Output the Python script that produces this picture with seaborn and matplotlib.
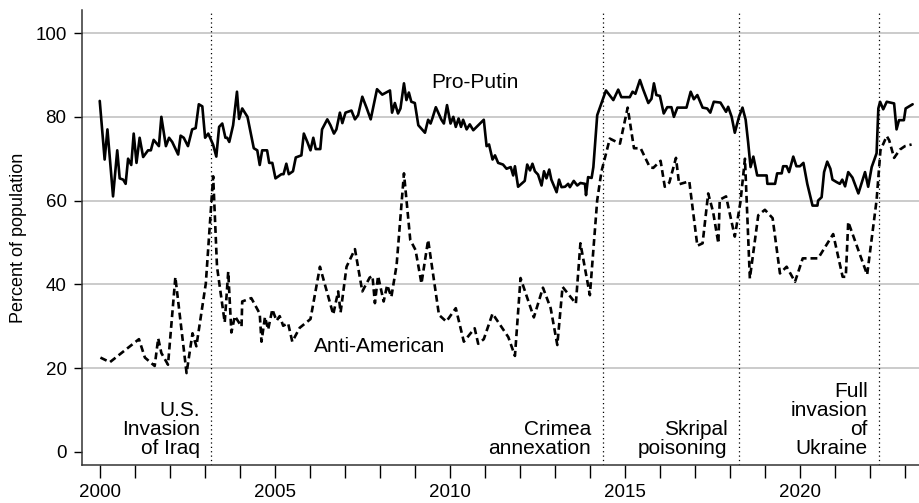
import pandas as pd
import matplotlib
matplotlib.use("Agg")
import matplotlib.pyplot as plt
import seaborn as sns

# Pro-Putin series (year, percent)
putin_year = [2000.0, 2000.14, 2000.22, 2000.38, 2000.5, 2000.57, 2000.67, 2000.74, 2000.81, 2000.9,
              2000.97, 2001.05, 2001.14, 2001.24, 2001.38, 2001.46, 2001.54, 2001.69, 2001.76, 2001.89,
              2001.98, 2002.07, 2002.24, 2002.31, 2002.4, 2002.52, 2002.64, 2002.74, 2002.83, 2002.93,
              2003.01, 2003.1, 2003.24, 2003.33, 2003.41, 2003.5, 2003.59, 2003.64, 2003.7, 2003.81,
              2003.92, 2003.98, 2004.07, 2004.22, 2004.4, 2004.5, 2004.57, 2004.64, 2004.78, 2004.84,
              2004.93, 2005.02, 2005.19, 2005.25, 2005.33, 2005.4, 2005.52, 2005.6, 2005.76, 2005.83,
              2005.93, 2006.02, 2006.1, 2006.17, 2006.3, 2006.35, 2006.5, 2006.59, 2006.69, 2006.76,
              2006.86, 2006.93, 2007.02, 2007.19, 2007.29, 2007.38, 2007.5, 2007.62, 2007.74, 2007.92,
              2008.07, 2008.29, 2008.35, 2008.43, 2008.52, 2008.59, 2008.69, 2008.76, 2008.83, 2008.9,
              2009.0, 2009.1, 2009.29, 2009.38, 2009.45, 2009.5, 2009.6, 2009.76, 2009.83, 2009.92,
              2010.02, 2010.1, 2010.17, 2010.25, 2010.32, 2010.38, 2010.48, 2010.57, 2010.67, 2010.97,
              2011.05, 2011.12, 2011.22, 2011.29, 2011.38, 2011.52, 2011.62, 2011.74, 2011.81, 2011.86,
              2011.95, 2012.14, 2012.21, 2012.29, 2012.36, 2012.43, 2012.52, 2012.62, 2012.69, 2012.76,
              2012.84, 2012.9, 2013.05, 2013.12, 2013.19, 2013.29, 2013.38, 2013.43, 2013.54, 2013.64,
              2013.73, 2013.86, 2013.89, 2013.95, 2014.05, 2014.1, 2014.21, 2014.46, 2014.67, 2014.81,
              2014.9, 2015.14, 2015.22, 2015.3, 2015.43, 2015.52, 2015.67, 2015.76, 2015.83, 2015.9,
              2016.0, 2016.11, 2016.21, 2016.33, 2016.4, 2016.5, 2016.76, 2016.88, 2016.97, 2017.07,
              2017.22, 2017.35, 2017.44, 2017.54, 2017.73, 2017.89, 2017.95, 2018.05, 2018.14, 2018.26,
              2018.36, 2018.45, 2018.52, 2018.59, 2018.67, 2018.78, 2019.05, 2019.07, 2019.29, 2019.35,
              2019.48, 2019.52, 2019.62, 2019.69, 2019.81, 2019.9, 2020.0, 2020.1, 2020.21, 2020.36,
              2020.5, 2020.52, 2020.62, 2020.69, 2020.78, 2020.87, 2020.93, 2021.05, 2021.14, 2021.21,
              2021.29, 2021.38, 2021.5, 2021.67, 2021.86, 2021.95, 2022.05, 2022.19, 2022.24, 2022.29,
              2022.38, 2022.48, 2022.69, 2022.76, 2022.83, 2022.97, 2023.02, 2023.22]
putin_pct = [83.8, 69.8, 77, 61, 72, 65.3, 65, 64, 70, 68.5,
             76, 69, 75, 70.4, 72, 72, 74.5, 73, 80, 73,
             75, 74, 71, 75.5, 75, 73, 77, 77.3, 83, 82.5,
             75, 76, 73.3, 70.5, 77.6, 78.4, 75, 75, 74, 78,
             86, 79.5, 82, 80, 72.5, 72, 68.5, 72, 72, 69,
             69, 65.3, 66.3, 66.3, 68.8, 66.3, 67, 70.3, 70.8, 76,
             74, 72, 75, 72.3, 72.3, 77, 79.4, 78, 76, 77,
             81, 78.5, 81, 81.5, 79.4, 80.4, 84.8, 82.2, 79.4, 86.6,
             85.3, 86.3, 81, 83.3, 80.8, 82, 88, 84, 85.8, 83.6,
             83.3, 78, 76.2, 79.3, 78.4, 79.6, 82.3, 79.3, 78.4, 82.8,
             78.4, 80, 77.6, 79.6, 77.6, 79.3, 77, 78.2, 76.8, 79.3,
             73, 73.4, 69.8, 70.8, 69, 68.6, 67.6, 68, 66, 68.2,
             63.3, 64.7, 68.6, 67.2, 68.8, 67, 66.2, 63.6, 67, 65.3,
             67.4, 65, 62, 65, 63.2, 63.3, 64, 63.2, 64.7, 63.6,
             64.2, 64, 61.3, 65.6, 65.4, 68, 80.4, 86.3, 84, 86.5,
             84.7, 84.7, 86, 85.5, 88.8, 86.6, 83.3, 84.3, 88, 85.2,
             85, 80.8, 82.3, 82.3, 80, 82.2, 82.2, 86, 84.2, 85.2,
             82.2, 82, 81, 83.6, 83.4, 81.2, 82.4, 80, 76.2, 80,
             82.2, 79.3, 74, 68, 70.5, 66, 66, 64, 64, 66.5,
             66.5, 68.2, 68.2, 66.8, 70.5, 68.2, 68.2, 69, 64, 58.8,
             58.8, 60, 60.8, 66.8, 69.3, 67.6, 65, 64.4, 64, 65,
             63.4, 66.8, 65.5, 61.7, 66.8, 63.3, 68, 71.3, 82, 83.6,
             81.8, 83.6, 83.2, 77, 79.2, 79.2, 82, 83]

# Anti-American series (year, percent)
anti_year = [2000.02, 2000.29, 2001.12, 2001.29, 2001.57, 2001.67, 2001.76, 2001.95, 2002.16, 2002.48,
             2002.65, 2002.76, 2003.03, 2003.24, 2003.35, 2003.57, 2003.67, 2003.76, 2003.86, 2004.05,
             2004.07, 2004.33, 2004.57, 2004.62, 2004.72, 2004.81, 2004.93, 2005.05, 2005.14, 2005.24,
             2005.38, 2005.5, 2005.71, 2006.02, 2006.29, 2006.67, 2006.81, 2006.88, 2007.05, 2007.29,
             2007.5, 2007.71, 2007.79, 2007.86, 2007.95, 2008.11, 2008.21, 2008.33, 2008.48, 2008.69,
             2008.87, 2009.02, 2009.19, 2009.38, 2009.69, 2009.9, 2010.17, 2010.4, 2010.71, 2010.81,
             2010.97, 2011.22, 2011.67, 2011.86, 2012.02, 2012.4, 2012.66, 2012.88, 2013.07, 2013.22,
             2013.6, 2013.73, 2014.0, 2014.21, 2014.33, 2014.57, 2014.86, 2015.08, 2015.26, 2015.45,
             2015.71, 2015.81, 2016.02, 2016.14, 2016.27, 2016.46, 2016.55, 2016.84, 2017.07, 2017.22,
             2017.38, 2017.52, 2017.67, 2017.71, 2017.89, 2018.14, 2018.3, 2018.43, 2018.57, 2018.81,
             2019.0, 2019.22, 2019.43, 2019.62, 2019.86, 2020.08, 2020.52, 2020.95, 2021.22, 2021.31,
             2021.38, 2021.92, 2022.19, 2022.3, 2022.48, 2022.55, 2022.69, 2022.86, 2023.0, 2023.19]
anti_pct = [22.5, 21.4, 26.9, 22.5, 20.5, 27.1, 23.6, 20.8, 41.7, 18.8,
            28.3, 25.2, 40.2, 65.8, 44.2, 30.9, 43, 28.5, 32.4, 29.9,
            35.9, 36.7, 33, 26.3, 32.2, 29.2, 34, 31.3, 32.4, 30.1,
            30.7, 26.3, 29.6, 31.7, 44.2, 32.8, 38.3, 33.3, 44.2, 48.4,
            38.3, 41.6, 42, 35.5, 42, 35.9, 39.8, 37, 44.6, 66.5,
            50.6, 48.2, 40.2, 50.6, 32.7, 31.1, 34.3, 26.3, 29.5, 25.8,
            26.9, 33, 27.4, 22.9, 41.5, 32.1, 39.2, 34.3, 25.5, 39.4,
            35.4, 49.8, 37.4, 60.1, 66.9, 74.8, 73.6, 82.2, 72.5, 72.5,
            68, 67.8, 69.5, 63.3, 64.3, 70.2, 63.9, 64.6, 49.2, 49.8,
            61.7, 57.3, 49.8, 60.2, 61, 51.4, 59.6, 70, 41.4, 56.5,
            57.8, 55.8, 42.6, 44.2, 40.6, 46.2, 46.2, 52, 41.8, 41.8,
            54.9, 42.3, 60.1, 72, 75.4, 74.4, 70.2, 72.2, 73, 73.4]

# events
event_year = [2003.19, 2014.37, 2018.26, 2022.27]
event_label = ["U.S.\nInvasion\nof Iraq", "Crimea\nannexation", "Skripal\npoisoning",
               "Full\ninvasion\nof\nUkraine"]

putin_df = pd.DataFrame({"year": putin_year, "pct": putin_pct})
anti_df = pd.DataFrame({"year": anti_year, "pct": anti_pct})

sns.set_style("white")
plt.rcParams["font.family"] = ["Liberation Sans", "DejaVu Sans"]
plt.rcParams["text.color"] = "black"
plt.rcParams["axes.labelcolor"] = "black"
plt.rcParams["xtick.color"] = "black"
plt.rcParams["ytick.color"] = "black"

fig = plt.figure(figsize=(9.2, 5.03), dpi=100)
ax = fig.add_axes([0.089, 0.076, 0.911, 0.904])

sns.lineplot(data=putin_df, x="year", y="pct", color="black", linewidth=1.9,
             estimator=None, sort=False, ax=ax)
sns.lineplot(data=anti_df, x="year", y="pct", color="black", linewidth=1.9,
             linestyle=(0, (2.6, 1.5)), estimator=None, sort=False, ax=ax)

for yr, lab in zip(event_year, event_label):
    ax.axvline(yr, color="black", linestyle=(0, (1, 2.5)), linewidth=0.9)
    ax.text(yr - 0.33, -0.5, lab, ha="right", va="baseline", fontsize=15, linespacing=1.0)

ax.text(2010.71, 87.0, "Pro-Putin", ha="center", va="baseline", fontsize=15)
ax.text(2007.99, 23.9, "Anti-American", ha="center", va="baseline", fontsize=15)

ax.set_xlim(1999.49, 2023.43)
ax.set_ylim(-3.1, 105.5)
ax.set_yticks([0, 20, 40, 60, 80, 100])
ax.set_xticks(range(2000, 2024))
ax.set_xticklabels([str(y) if y % 5 == 0 else "" for y in range(2000, 2024)])
ax.yaxis.grid(True, color="#bdbdbd", linewidth=1.1)
for g in ax.get_ygridlines()[:1]:
    g.set_visible(False)
ax.tick_params(axis="x", direction="out", length=9, width=1, labelsize=13.5, pad=5, bottom=True)
ax.tick_params(axis="y", direction="out", length=6, width=1, labelsize=13.5, pad=5, left=True)
ax.set_xlabel("")
ax.set_ylabel("Percent of population", fontsize=13, labelpad=6)

sns.despine(ax=ax)
ax.spines["left"].set_color("#333333")
ax.spines["bottom"].set_color("#333333")
ax.spines["left"].set_linewidth(1.1)
ax.spines["bottom"].set_linewidth(1.1)

fig.savefig("out.png", dpi=100)
